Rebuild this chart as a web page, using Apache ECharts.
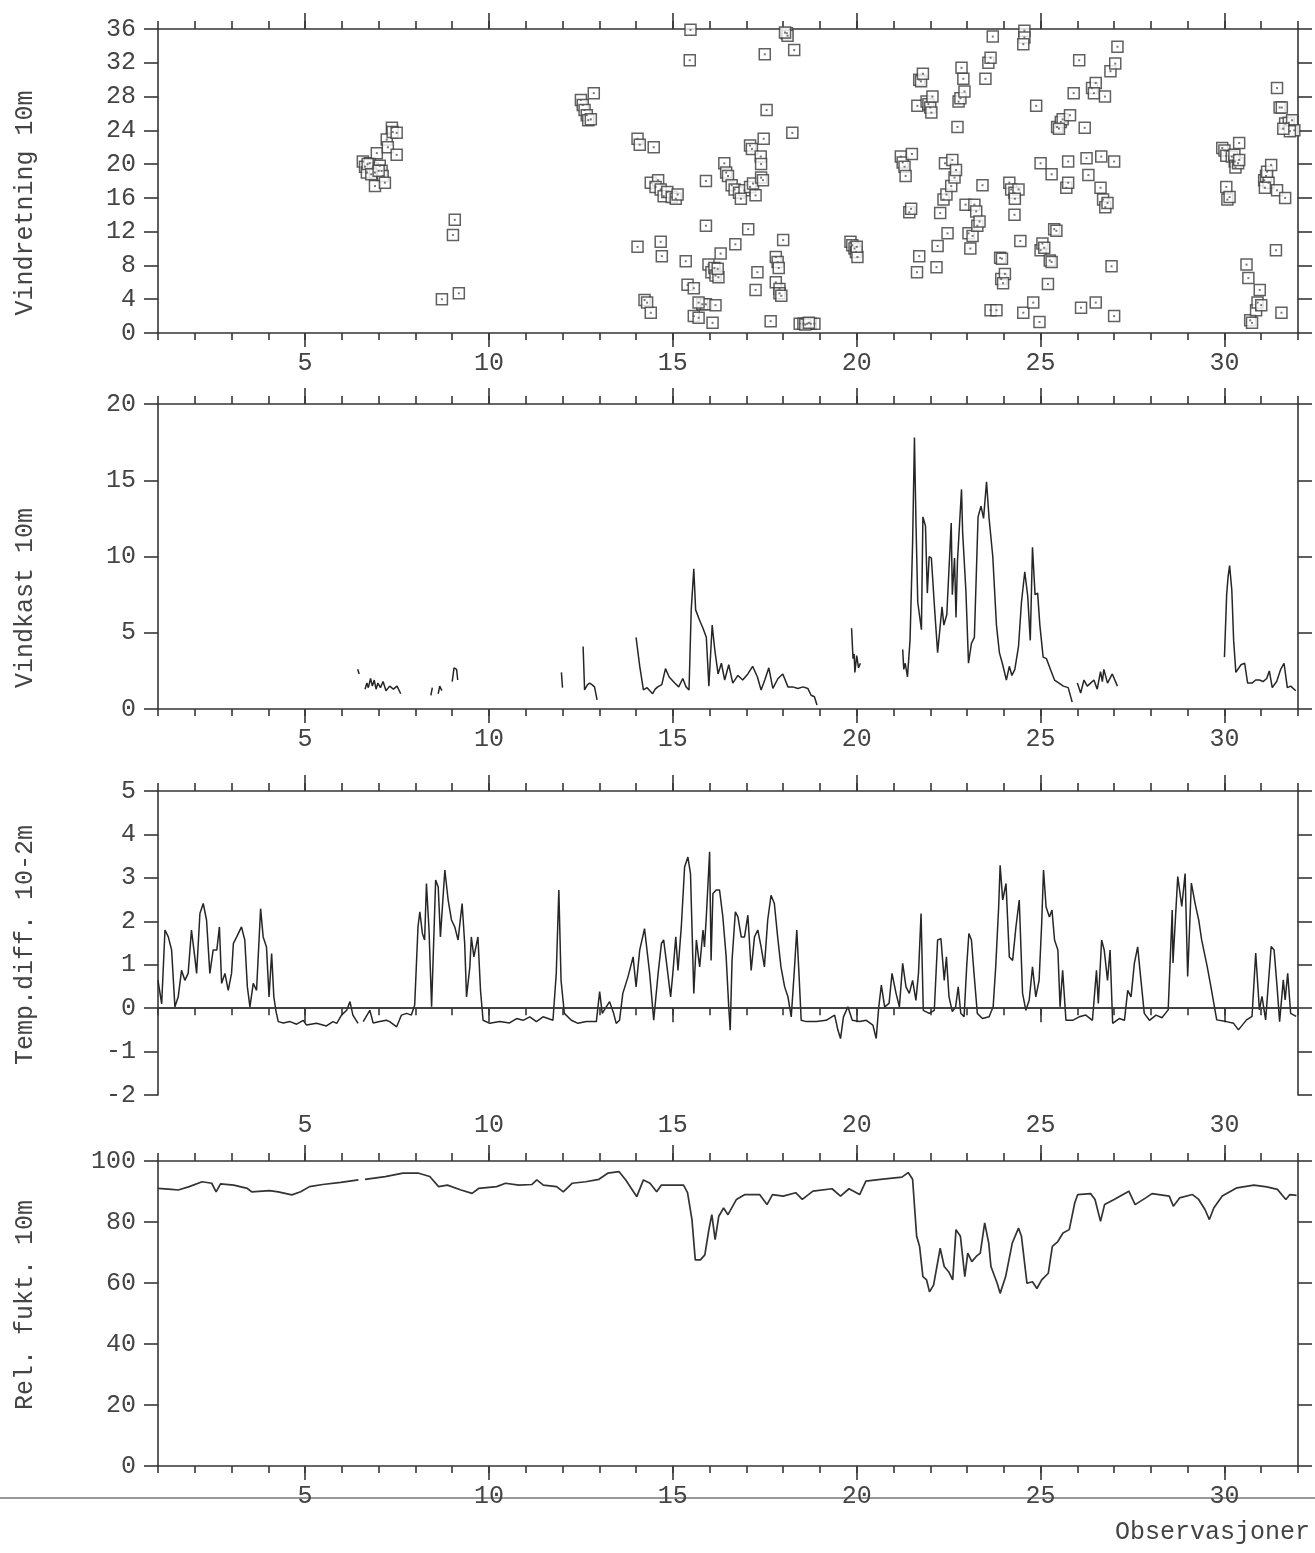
<!DOCTYPE html>
<html>
<head>
<meta charset="utf-8">
<script src="https://cdn.jsdelivr.net/npm/echarts@6/dist/echarts.min.js"></script>
<style>
  html, body { margin: 0; padding: 0; background: #fff; }
  #chart { width: 1315px; height: 1553px; }
</style>
</head>
<body>
<div id="chart"></div>
<script>
// observasjoner (dag i måneden), felles x-akse for alle fire panel
const xMajor = [5, 10, 15, 20, 25, 30];

// Vindretning 10m (x, retning/10)
const windDir = [
  [6.57,20.3],[6.63,19.7],[6.68,19.0],[6.76,20.1],[6.84,19.5],[6.9,19.0],[6.95,21.3],[7.03,19.8],[7.08,19.2],[7.11,18.6],
  [6.9,17.4],[7.17,17.8],[7.22,22.9],[7.25,22.0],[7.36,24.3],[7.38,23.8],[7.49,23.7],[7.49,21.1],[6.7,20.0],[6.8,18.8],[7.0,19.2],
  [8.72,4.0],[9.07,13.4],[9.02,11.6],[9.18,4.7],
  [12.5,27.6],[12.55,27.0],[12.6,26.4],[12.66,25.8],[12.7,25.2],[12.77,25.3],[12.85,28.4],
  [14.04,23.0],[14.1,22.3],[14.48,22.0],[14.04,10.2],[14.23,3.9],[14.3,3.6],[14.4,2.4],
  [14.4,17.8],[14.6,18.1],[14.53,17.3],[14.67,17.0],[14.75,16.2],[14.85,16.7],[14.97,16.1],[15.08,15.9],[15.13,16.4],
  [14.67,10.8],[14.7,9.1],
  [15.46,32.3],[15.48,35.9],[15.35,8.5],[15.4,5.7],[15.57,5.3],[15.57,2.0],[15.7,1.8],[15.8,3.4],[15.9,3.4],[16.08,1.2],[16.16,3.3],[15.7,3.6],
  [15.9,18.0],[15.9,12.7],
  [15.97,8.1],[16.05,7.2],[16.13,7.7],[16.16,6.8],[16.24,6.6],[16.22,7.6],
  [16.3,9.4],[16.7,10.5],
  [16.4,20.1],[16.45,19.0],[16.5,18.6],[16.6,17.5],[16.68,17.0],[16.8,16.6],[16.95,16.9],[17.1,17.3],[17.18,17.7],[17.25,16.3],[16.85,15.9],
  [17.1,22.2],[17.15,21.8],[17.47,23.0],
  [17.05,12.3],[17.25,5.1],[17.3,7.2],
  [17.39,20.9],[17.4,20.0],[17.4,18.4],[17.45,18.1],
  [17.5,33.0],[17.55,26.4],[17.66,1.4],
  [17.8,6.0],[17.8,9.0],[17.85,8.4],[17.88,7.7],[17.9,5.2],[17.9,4.7],[17.95,4.4],
  [18.0,11.0],[18.1,35.5],[18.12,35.2],[18.05,35.6],[18.25,23.7],[18.3,33.5],
  [18.45,1.1],[18.55,1.1],[18.65,1.1],[18.75,1.1],[18.85,1.1],[18.6,1.0],[18.7,1.2],
  [19.83,10.8],[19.88,10.4],[19.94,10.0],[19.98,9.6],[20.02,9.0],[20.0,10.2],
  [21.2,20.9],[21.25,20.2],[21.3,19.7],[21.33,18.6],[21.43,14.3],[21.48,14.7],[21.5,21.2],
  [21.64,7.2],[21.7,9.1],[21.65,26.9],[21.7,30.0],[21.75,29.8],[21.8,30.7],[21.9,27.4],[21.95,27.1],[22.0,26.7],[22.06,28.0],[22.03,26.1],
  [22.17,7.8],[22.2,10.3],[22.27,14.2],[22.36,15.8],[22.4,20.1],[22.44,16.4],[22.47,11.8],[22.57,17.4],[22.66,18.4],[22.6,20.5],[22.7,19.3],
  [22.74,24.4],[22.77,27.4],[22.82,27.8],[22.85,31.4],[22.9,30.1],[22.93,28.6],
  [22.96,15.2],[23.04,11.8],[23.09,10.0],[23.15,11.5],[23.2,15.2],[23.25,14.4],[23.28,12.7],[23.34,13.2],[23.42,17.5],
  [23.5,30.1],[23.58,32.0],[23.64,32.6],[23.7,35.1],
  [23.64,2.7],[23.8,2.7],
  [23.9,8.9],[23.95,8.8],[23.93,6.4],[24.03,7.0],[23.98,5.9],
  [24.15,17.8],[24.2,17.0],[24.29,16.6],[24.4,17.0],[24.29,14.0],[24.3,15.9],[24.45,10.9],
  [24.45,36.5],[24.5,36.3],[24.56,35.8],[24.56,35.0],[24.65,36.5],[24.53,34.2],
  [24.53,2.4],[24.8,3.6],[24.88,26.9],[24.97,1.3],
  [25.0,9.8],[25.05,10.6],[25.1,10.1],[25.0,20.1],[25.2,5.8],[25.3,18.8],[25.25,8.6],[25.3,8.4],[25.37,12.3],[25.43,12.1],
  [25.45,24.4],[25.55,25.0],[25.6,25.3],[25.5,24.2],[25.8,25.8],[25.7,17.2],[25.75,17.8],[25.75,20.3],[25.9,28.4],[26.05,32.3],
  [26.2,24.3],[26.25,20.7],[26.3,18.7],[26.1,3.0],
  [26.4,29.0],[26.5,29.6],[26.45,28.4],[26.5,3.6],[26.65,20.9],[26.63,17.2],[26.75,28.0],[26.7,15.8],[26.76,14.9],[26.82,15.4],
  [26.9,31.0],[27.03,31.9],[27.09,33.9],[26.93,7.9],[27.0,20.3],[27.0,2.0],
  [29.94,21.9],[30.0,21.6],[30.05,21.0],[30.05,17.3],[30.08,15.8],[30.14,16.1],[30.2,20.9],[30.28,20.3],[30.3,19.6],[30.37,20.1],
  [30.27,21.1],[30.4,20.5],[30.4,22.5],
  [30.6,8.1],[30.65,6.5],[30.7,1.5],[30.75,1.2],[30.86,2.7],[30.9,3.6],[30.96,5.1],[31.0,3.3],
  [31.08,18.1],[31.13,18.6],[31.2,17.8],[31.16,19.1],[31.27,19.9],[31.1,17.2],[31.4,9.8],[31.43,29.0],[31.5,26.7],[31.56,26.7],
  [31.55,2.4],[31.43,16.9],[31.65,16.0],[31.65,24.8],[31.75,24.9],[31.84,25.2],[31.9,24.0],[31.78,23.9],[31.6,24.2]
];

// Vindkast 10m, null = brudd i serien
const windGust = [
  [6.43,2.6],[6.47,2.3],null,
  [6.63,1.3],[6.68,1.7],[6.72,1.4],[6.78,2.0],[6.83,1.5],[6.88,1.9],[6.93,1.3],[6.98,1.7],[7.05,1.4],[7.12,1.8],[7.2,1.2],[7.3,1.5],[7.4,1.3],[7.5,1.5],[7.6,1.0],null,
  [8.42,0.9],[8.46,1.4],null,
  [8.62,1.0],[8.66,1.5],[8.72,1.2],null,
  [9.0,1.8],[9.05,2.7],[9.12,2.6],[9.15,1.9],null,
  [11.97,2.4],[12.0,1.4],null,
  [12.56,4.1],[12.6,1.25],[12.68,1.6],[12.74,1.7],[12.8,1.6],[12.87,1.45],[12.94,0.6],null,
  [14.0,4.7],[14.1,2.8],[14.2,1.25],[14.3,1.4],[14.45,1.0],[14.52,1.3],[14.59,1.45],[14.7,1.6],[14.8,2.65],[14.9,2.1],[15.05,1.7],[15.16,1.45],[15.27,2.0],[15.36,1.45],[15.44,1.25],
  [15.5,6.5],[15.57,9.2],[15.62,6.5],[15.73,5.8],[15.82,5.3],[15.91,4.7],[15.98,1.5],[16.07,5.5],[16.14,3.9],[16.23,2.3],[16.32,3.0],
  [16.41,1.9],[16.52,2.9],[16.63,1.7],[16.77,2.2],[16.9,1.9],[17.04,2.3],[17.17,2.8],[17.3,2.1],[17.4,1.25],[17.5,1.9],[17.61,2.7],
  [17.72,1.35],[17.86,2.0],[17.99,2.3],[18.13,1.45],[18.26,1.45],[18.4,1.35],[18.54,1.45],[18.67,1.35],[18.76,0.9],[18.85,0.8],[18.92,0.26],null,
  [19.86,5.3],[19.9,3.3],[19.93,3.6],[19.95,2.4],[20.0,3.5],[20.05,2.7],[20.1,3.0],null,
  [21.25,3.9],[21.28,2.6],[21.32,3.0],[21.38,2.1],[21.45,4.5],[21.52,10.9],[21.57,17.8],[21.61,12.4],[21.66,7.0],[21.76,5.2],[21.8,12.6],
  [21.87,12.0],[21.92,7.6],[21.97,10.0],[22.03,9.9],[22.12,6.5],[22.2,3.7],[22.25,3.8],[22.32,6.7],[22.37,5.5],[22.45,6.2],[22.57,12.2],
  [22.6,7.5],[22.66,9.9],[22.7,6.0],[22.74,9.7],[22.85,14.4],[22.88,11.6],[22.97,7.7],[23.04,3.0],[23.12,4.3],[23.2,4.7],[23.3,12.6],
  [23.38,13.3],[23.45,12.5],[23.53,14.9],[23.6,12.5],[23.7,10.0],[23.8,5.5],[23.88,3.7],[23.97,2.9],[24.07,1.9],[24.15,2.8],[24.22,2.2],
  [24.3,2.6],[24.4,4.1],[24.48,7.0],[24.57,9.0],[24.65,7.4],[24.72,4.5],[24.78,10.6],[24.85,7.5],[24.92,7.6],[24.98,5.5],[25.07,3.4],
  [25.16,3.3],[25.3,2.4],[25.38,1.9],[25.5,1.7],[25.62,1.5],[25.75,1.4],[25.86,0.45],null,
  [26.0,1.7],[26.09,1.05],[26.18,1.9],[26.27,1.5],[26.36,1.7],[26.45,1.9],[26.54,1.3],[26.63,2.45],[26.68,1.8],[26.72,2.6],[26.82,1.7],
  [26.95,2.3],[27.09,1.5],null,
  [30.0,3.4],[30.06,7.5],[30.1,8.7],[30.14,9.4],[30.2,7.8],[30.25,4.5],[30.31,2.4],[30.45,2.9],[30.55,3.0],[30.63,1.7],[30.75,1.7],
  [30.85,1.9],[30.95,1.9],[31.05,1.8],[31.15,2.0],[31.22,2.5],[31.3,1.4],[31.42,1.8],[31.53,2.6],[31.62,3.0],[31.71,1.4],[31.8,1.5],[31.94,1.2]
];

// Temp.diff. 10-2m
const tempDiff = [
  [1.0,0.64],[1.1,0.1],[1.19,1.8],[1.28,1.64],[1.37,1.34],[1.46,0.03],[1.55,0.26],[1.64,0.87],[1.73,0.64],[1.82,0.8],[1.91,1.8],
  [2.0,1.18],[2.05,0.8],[2.14,2.18],[2.23,2.41],[2.32,2.03],[2.41,0.8],[2.5,1.34],[2.6,1.34],[2.67,1.87],[2.73,0.57],[2.82,0.8],
  [2.91,0.41],[3.0,0.8],[3.05,1.49],[3.14,1.64],[3.27,1.87],[3.36,1.57],[3.43,0.49],[3.5,0.03],[3.59,0.57],[3.68,0.41],[3.79,2.29],
  [3.86,1.64],[3.95,1.41],[4.02,0.26],[4.09,1.26],[4.15,0.26],[4.21,-0.08],[4.27,-0.31],[4.41,-0.34],[4.59,-0.31],[4.77,-0.37],
  [4.95,-0.28],[5.04,-0.39],[5.31,-0.35],[5.58,-0.41],[5.76,-0.31],[5.86,-0.35],[5.99,-0.16],[6.13,-0.05],[6.22,0.15],[6.3,-0.16],
  [6.44,-0.35],null,
  [6.58,-0.31],[6.76,-0.05],[6.85,-0.34],[7.03,-0.31],[7.21,-0.28],[7.3,-0.31],[7.49,-0.43],[7.62,-0.16],[7.76,-0.12],[7.89,-0.16],
  [7.98,0.07],[8.07,1.87],[8.12,2.22],[8.19,1.72],[8.25,1.57],[8.3,2.87],[8.37,1.8],[8.44,0.03],[8.48,0.03],[8.55,2.95],[8.62,2.79],
  [8.68,1.64],[8.8,3.18],[8.89,2.49],[8.98,2.03],[9.07,1.87],[9.16,1.57],[9.21,1.95],[9.27,2.41],[9.34,1.49],[9.39,0.26],[9.48,0.95],
  [9.52,1.64],[9.59,1.18],[9.7,1.64],[9.77,0.41],[9.84,-0.28],[10.02,-0.35],[10.29,-0.31],[10.56,-0.34],[10.75,-0.24],[10.93,-0.28],
  [11.11,-0.2],[11.29,-0.31],[11.47,-0.2],[11.74,-0.28],[11.83,0.8],[11.9,2.72],[11.96,0.64],[12.05,-0.12],[12.24,-0.28],[12.42,-0.35],
  [12.65,-0.31],[12.92,-0.31],[13.01,0.38],[13.08,-0.12],[13.19,0.03],[13.28,0.15],[13.39,-0.12],[13.46,-0.35],[13.55,-0.28],[13.64,0.34],
  [13.78,0.72],[13.92,1.18],[14.0,0.49],[14.1,1.34],[14.23,1.83],[14.37,0.8],[14.48,-0.28],[14.6,0.8],[14.69,1.49],[14.75,1.57],
  [14.83,1.03],[14.94,0.26],[15.0,0.8],[15.08,1.64],[15.14,0.87],[15.23,1.87],[15.32,3.25],[15.41,3.48],[15.48,3.1],[15.57,0.34],
  [15.64,1.57],[15.73,0.95],[15.82,1.8],[15.86,1.41],[15.91,2.1],[16.0,3.6],[16.04,1.1],[16.09,2.64],[16.18,2.72],[16.27,2.72],
  [16.36,2.1],[16.45,1.18],[16.52,0.03],[16.56,-0.51],[16.61,1.1],[16.7,2.22],[16.77,2.1],[16.86,1.64],[16.95,1.64],[17.04,2.14],
  [17.13,0.87],[17.22,1.64],[17.31,1.8],[17.4,1.41],[17.49,0.95],[17.58,2.03],[17.67,2.6],[17.76,2.41],[17.85,1.64],[17.94,0.95],
  [18.04,0.49],[18.13,0.26],[18.22,-0.2],[18.31,0.95],[18.37,1.8],[18.43,0.8],[18.49,-0.28],[18.63,-0.31],[18.9,-0.31],[19.17,-0.28],
  [19.4,-0.16],[19.49,-0.51],[19.56,-0.7],[19.64,-0.2],[19.76,0.03],[19.88,-0.28],[20.08,-0.31],[20.26,-0.28],[20.44,-0.39],[20.53,-0.7],
  [20.6,0.03],[20.67,0.53],[20.76,0.03],[20.88,0.11],[20.96,0.8],[21.07,0.34],[21.16,0.03],[21.25,1.03],[21.34,0.49],[21.43,0.34],
  [21.52,0.64],[21.61,0.18],[21.68,0.8],[21.75,2.18],[21.81,-0.05],[21.97,-0.12],[22.11,-0.05],[22.2,1.57],[22.29,1.6],[22.38,0.64],
  [22.44,1.18],[22.51,0.26],[22.6,-0.08],[22.69,0.03],[22.76,0.49],[22.83,-0.12],[22.92,-0.2],[22.99,0.95],[23.05,1.72],[23.12,1.57],
  [23.19,0.8],[23.28,-0.12],[23.42,-0.24],[23.6,-0.2],[23.71,0.03],[23.78,0.95],[23.86,2.33],[23.9,3.29],[23.97,2.49],[24.06,2.87],
  [24.15,1.18],[24.24,1.1],[24.33,1.87],[24.42,2.49],[24.51,0.34],[24.6,-0.05],[24.69,0.18],[24.78,0.95],[24.87,0.26],[24.96,0.64],
  [25.03,1.95],[25.08,3.18],[25.15,2.33],[25.24,2.1],[25.31,2.26],[25.38,1.57],[25.47,1.34],[25.53,0.03],[25.6,0.87],[25.69,-0.28],
  [25.87,-0.28],[26.05,-0.2],[26.23,-0.16],[26.41,-0.28],[26.52,0.87],[26.57,0.11],[26.66,1.57],[26.73,1.34],[26.82,0.64],[26.89,1.34],
  [26.96,-0.35],[27.14,-0.24],[27.28,-0.28],[27.37,0.41],[27.46,0.26],[27.55,1.03],[27.64,1.41],[27.73,0.64],[27.82,-0.12],[27.96,-0.28],
  [28.14,-0.16],[28.3,-0.22],[28.47,-0.04],[28.58,2.26],[28.6,1.04],[28.73,3.03],[28.84,2.34],[28.93,3.1],[29.0,0.73],[29.1,2.88],
  [29.2,2.42],[29.3,2.03],[29.38,1.57],[29.53,0.96],[29.63,0.5],[29.79,-0.27],[30.05,-0.31],[30.25,-0.35],[30.38,-0.5],[30.6,-0.27],
  [30.75,-0.19],[30.85,1.27],[30.95,-0.04],[31.02,0.27],[31.12,-0.27],[31.27,1.42],[31.35,1.34],[31.43,0.5],[31.5,-0.31],[31.6,0.65],
  [31.65,0.19],[31.72,0.8],[31.8,-0.12],[31.95,-0.19]
];

// Rel. fukt. 10m
const relHum = [
  [1.0,91.0],[1.37,90.7],[1.55,90.5],[1.85,91.6],[2.2,93.2],[2.46,92.7],[2.58,89.9],[2.7,92.5],[3.06,92.1],[3.43,91.0],[3.55,89.9],
  [4.03,90.3],[4.27,89.9],[4.64,88.9],[4.88,89.9],[5.12,91.6],[5.48,92.3],[5.97,93.0],[6.45,93.8],null,
  [6.63,94.0],[7.18,94.9],[7.66,96.0],[8.09,96.0],[8.39,94.9],[8.63,91.6],[8.87,92.1],[9.24,90.5],[9.54,89.4],[9.72,91.0],[10.21,91.6],
  [10.45,92.7],[10.81,92.1],[11.17,92.3],[11.3,93.8],[11.48,92.1],[11.84,91.6],[12.02,89.9],[12.26,92.7],[12.63,93.2],[12.99,94.0],
  [13.23,96.0],[13.54,96.5],[13.72,93.8],[14.02,88.3],[14.2,93.8],[14.38,92.7],[14.56,89.9],[14.69,92.1],[15.29,92.1],[15.4,89.6],
  [15.52,80.8],[15.61,67.6],[15.75,67.6],[15.87,69.2],[15.98,77.5],[16.06,82.4],[16.15,74.2],[16.25,81.9],[16.38,84.6],[16.5,82.4],
  [16.73,87.4],[16.96,89.0],[17.36,89.0],[17.56,85.7],[17.71,89.0],[18.0,88.5],[18.34,89.6],[18.52,87.4],[18.81,90.1],[19.33,90.9],
  [19.56,88.5],[19.79,90.9],[20.08,89.0],[20.25,93.4],[20.65,94.0],[21.23,94.7],[21.4,96.2],[21.52,94.0],[21.63,75.3],[21.71,72.0],
  [21.8,62.1],[21.9,61.0],[21.98,57.1],[22.09,59.3],[22.27,71.4],[22.38,65.4],[22.5,63.7],[22.61,61.0],[22.7,77.5],[22.82,75.3],
  [22.94,62.1],[23.02,69.8],[23.13,67.0],[23.25,68.7],[23.36,69.8],[23.48,79.7],[23.59,73.1],[23.65,65.4],[23.82,59.9],[23.9,56.6],
  [24.05,62.1],[24.23,73.1],[24.4,78.0],[24.48,75.3],[24.63,59.9],[24.78,60.4],[24.9,58.2],[25.03,61.0],[25.21,63.2],[25.32,72.0],
  [25.47,73.6],[25.61,76.4],[25.78,77.5],[25.93,86.3],[26.01,89.0],[26.36,89.3],[26.48,87.4],[26.63,80.2],[26.74,85.7],[27.0,87.4],
  [27.4,90.1],[27.57,85.7],[27.86,87.9],[28.03,89.3],[28.5,88.5],[28.61,85.2],[28.78,87.9],[29.13,89.0],[29.3,87.4],[29.47,84.1],
  [29.59,80.8],[29.71,84.6],[29.94,88.5],[30.34,91.2],[30.8,92.1],[31.15,91.5],[31.44,90.7],[31.67,87.4],[31.78,89.0],[31.96,88.7]
];

const INK = '#363636';
const FONT = 'Liberation Mono';
const FSIZE = 25;

// paneler: plassering, y-akse og plassering av aksenavn
const panels = [
  { top: 29,   height: 304, min: 0,  max: 36,  interval: 4,  name: 'Vindretning 10m',  nameY: 203 },
  { top: 404,  height: 305, min: 0,  max: 20,  interval: 5,  name: 'Vindkast 10m',     nameY: 598 },
  { top: 791,  height: 304, min: -2, max: 5,   interval: 1,  name: 'Temp.diff. 10-2m', nameY: 945 },
  { top: 1161, height: 305, min: 0,  max: 100, interval: 20, name: 'Rel. fukt. 10m',   nameY: 1305 }
];

const line = { color: INK, width: 1.6 };
const grids = [], xAxes = [], yAxes = [];

panels.forEach((p, g) => {
  grids.push({ left: 158, right: 17, top: p.top, height: p.height, outerBoundsMode: 'none', containLabel: false });
  const base = { type: 'value', gridIndex: g, min: 1, max: 32, splitLine: { show: false } };
  // nederst: småstreker hver dag
  xAxes.push(Object.assign({}, base, {
    position: 'bottom', interval: 1,
    axisLine: { show: true, lineStyle: line },
    axisTick: { length: 7, lineStyle: line },
    axisLabel: { show: false }
  }));
  // nederst: hovedstreker + tall
  xAxes.push(Object.assign({}, base, {
    position: 'bottom',
    axisLine: { show: false },
    axisTick: { customValues: xMajor, length: 14, lineStyle: line },
    axisLabel: { customValues: xMajor, margin: 18, color: '#444', fontFamily: FONT, fontSize: FSIZE }
  }));
  // øverst
  xAxes.push(Object.assign({}, base, {
    position: 'top', interval: 1,
    axisLine: { show: true, lineStyle: line },
    axisTick: { length: 8, lineStyle: line },
    axisLabel: { show: false }
  }));
  xAxes.push(Object.assign({}, base, {
    position: 'top',
    axisLine: { show: false },
    axisTick: { customValues: xMajor, length: 16, lineStyle: line },
    axisLabel: { show: false }
  }));
  const ybase = { type: 'value', gridIndex: g, min: p.min, max: p.max, interval: p.interval, splitLine: { show: false } };
  yAxes.push(Object.assign({}, ybase, {
    position: 'left',
    axisLine: { show: true, lineStyle: line },
    axisTick: { length: 14, lineStyle: line },
    axisLabel: { margin: 22, color: '#444', fontFamily: FONT, fontSize: FSIZE }
  }));
  yAxes.push(Object.assign({}, ybase, {
    position: 'right',
    axisLine: { show: true, lineStyle: line },
    axisTick: { length: 14, lineStyle: line },
    axisLabel: { show: false }
  }));
});

const gapped = arr => arr.map(d => d === null ? ['-', '-'] : d);
const lineSeries = (g, data, extra) => Object.assign({
  type: 'line', xAxisIndex: g * 4, yAxisIndex: g * 2,
  data: gapped(data), showSymbol: false, symbol: 'none', connectNulls: false,
  lineStyle: { color: '#262626', width: 1.5 }, silent: true, animation: false
}, extra || {});

const nameTexts = panels.map(p => ({
  type: 'text', x: 25, y: p.nameY, rotation: Math.PI / 2, silent: true,
  style: { text: p.name, fill: '#444', font: FSIZE + 'px "Liberation Mono"', align: 'center', verticalAlign: 'middle' }
}));

const chart = echarts.init(document.getElementById('chart'));
chart.setOption({
  backgroundColor: '#fff',
  animation: false,
  grid: grids,
  xAxis: xAxes,
  yAxis: yAxes,
  graphic: nameTexts.concat([
    { type: 'line', shape: { x1: 0, y1: 1498, x2: 1315, y2: 1498 }, style: { stroke: '#777', lineWidth: 1.5 }, silent: true },
    { type: 'text', right: 5, top: 1520, style: { text: 'Observasjoner', fill: '#444', font: FSIZE + 'px "Liberation Mono"' }, silent: true }
  ]),
  series: [
    {
      type: 'scatter', xAxisIndex: 0, yAxisIndex: 0, data: windDir,
      symbol: 'rect', symbolSize: 11,
      itemStyle: { color: '#fff', borderColor: '#3a3a3a', borderWidth: 1.5 }, silent: true
    },
    {
      type: 'scatter', xAxisIndex: 0, yAxisIndex: 0, data: windDir,
      symbol: 'rect', symbolSize: 2, itemStyle: { color: '#555' }, silent: true
    },
    lineSeries(1, windGust),
    lineSeries(2, tempDiff, {
      markLine: {
        silent: true, symbol: 'none', label: { show: false },
        lineStyle: { color: INK, width: 1.7, type: 'solid' },
        data: [{ yAxis: 0 }]
      }
    }),
    lineSeries(3, relHum, { lineStyle: { color: '#333', width: 1.7 } })
  ]
});
</script>
</body>
</html>
